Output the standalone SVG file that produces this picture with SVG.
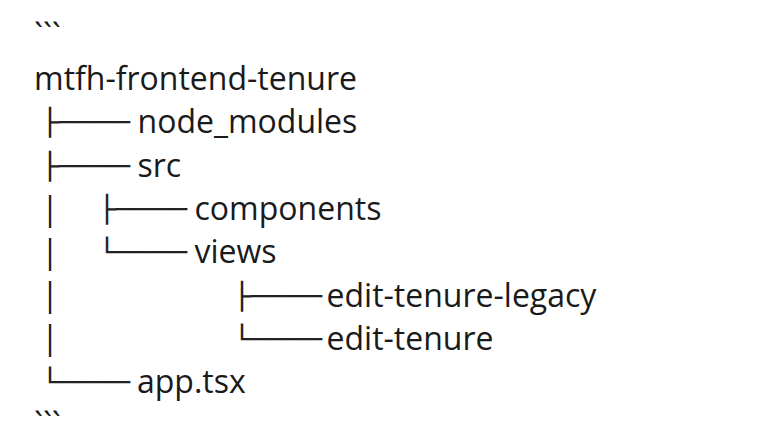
<svg xmlns="http://www.w3.org/2000/svg" width="758" height="438" viewBox="0 0 758 438">
<style>
.t{font-family:"Open Sans","Noto Sans",sans-serif;font-size:32px;fill:#1a1a1a}
.b{font-family:"DejaVu Sans",sans-serif;font-size:26px;fill:#222222}
.p{font-family:"Open Sans","Noto Sans",sans-serif;font-size:32px;fill:#1a1a1a}
</style>
<rect width="758" height="438" fill="#ffffff"/>
<g id="connectors">
<text class="b" x="41" y="131.3" textLength="89" lengthAdjust="spacingAndGlyphs">├────</text>
<text class="b" x="41" y="174.6" textLength="89" lengthAdjust="spacingAndGlyphs">├────</text>
<text class="b" x="98" y="217.9" textLength="89" lengthAdjust="spacingAndGlyphs">├────</text>
<text class="b" x="98" y="261.2" textLength="89" lengthAdjust="spacingAndGlyphs">└────</text>
<text class="b" x="233" y="304.5" textLength="89" lengthAdjust="spacingAndGlyphs">├────</text>
<text class="b" x="233" y="347.8" textLength="89" lengthAdjust="spacingAndGlyphs">└────</text>
<text class="b" x="41" y="391" textLength="89" lengthAdjust="spacingAndGlyphs">└────</text>
<text class="p" x="50" y="219.5" text-anchor="middle">|</text>
<text class="p" x="50" y="262.8" text-anchor="middle">|</text>
<text class="p" x="50" y="306.1" text-anchor="middle">|</text>
<text class="p" x="50" y="349.4" text-anchor="middle">|</text>
</g>
<text class="t" x="34" y="46.5">```</text>
<g id="root"><text class="t" x="34" y="90">mtfh-frontend-tenure</text></g>
<g id="node_modules"><text class="t" x="137.5" y="133.3">node_modules</text></g>
<g id="src"><text class="t" x="137.5" y="176.6">src</text></g>
<g id="components"><text class="t" x="194.5" y="219.9">components</text></g>
<g id="views"><text class="t" x="194.5" y="263.2">views</text></g>
<g id="edit-tenure-legacy"><text class="t" x="326.5" y="306.5">edit-tenure-legacy</text></g>
<g id="edit-tenure"><text class="t" x="326.5" y="349.8">edit-tenure</text></g>
<g id="app"><text class="t" x="137" y="393">app.tsx</text></g>
<text class="t" x="34" y="436.3">```</text>
</svg>
